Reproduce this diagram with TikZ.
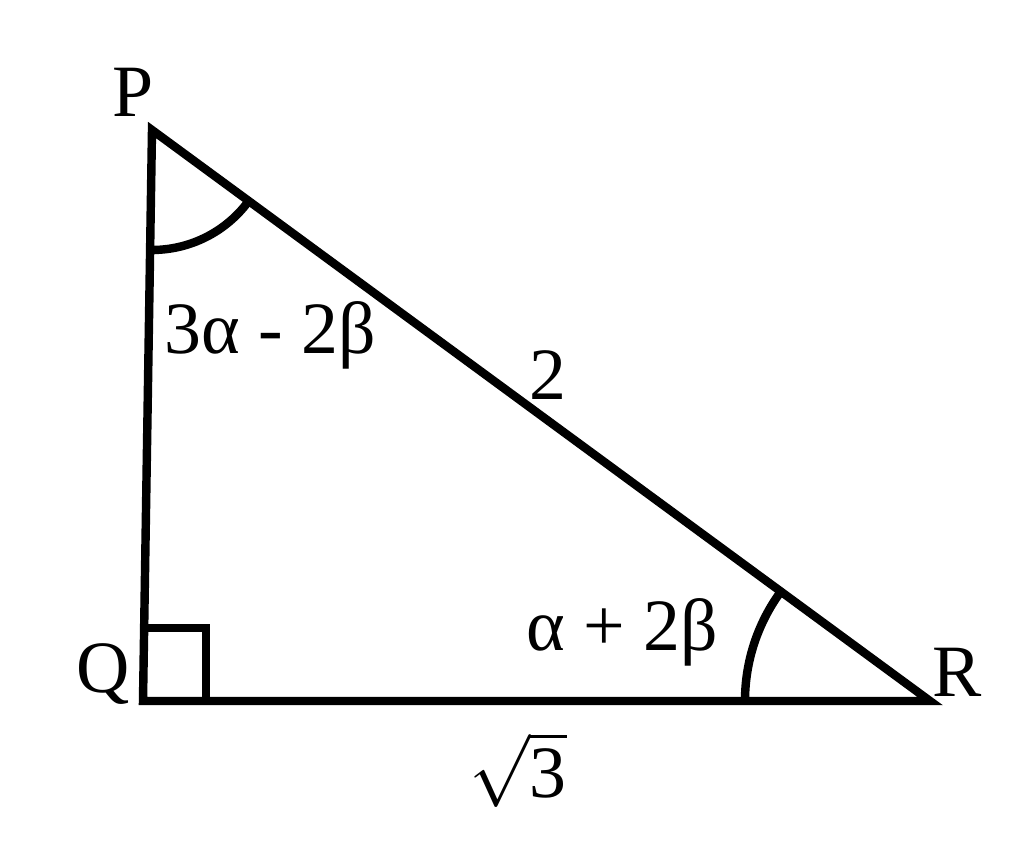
\documentclass[tikz,border=0pt]{standalone}
\usepackage{fontspec}
\setmainfont{Liberation Serif}
\usepackage{tikz}
\usetikzlibrary{positioning}

\begin{document}
\begin{tikzpicture}
    [
    side/.style = {line width=2.4pt},
    lab/.style = {inner sep=0pt, font=\fontsize{21}{24}\selectfont}
    ]

    \useasboundingbox (0,0) rectangle (10.24,8.46);

% Vertices
    \coordinate (p) at (1.52,7.16);
    \coordinate (q) at (1.43,1.45);
    \coordinate (r) at (9.30,1.45);

% Triangle
    \draw[side] (p) -- (q) -- (r) -- cycle;
    \draw[side] ([xshift=0.02cm]q) ++(0,0.73) -| ([xshift=0.63cm]q);

% Angle arcs
    \draw[side] (p) ++(269:1.2) arc[start angle=269, end angle=323.6, radius=1.2];
    \draw[side] (r) ++(143.6:1.85) arc[start angle=143.6, end angle=180, radius=1.85];

% Labels
    \node[lab] (plab) at (1.33,7.54) {P};
    \node[lab] (qlab) at (1.03,1.72) {Q};
    \node[lab] (rlab) at (9.57,1.74) {R};
    \node[lab] (angp) at (2.70,5.11) {3α - 2β};
    \node[lab] (angr) at (6.22,2.14) {α + 2β};
    \node[lab] (hyp) at (5.48,4.71) {2};
    \node[lab] (base) at (5.18,0.76) {$\sqrt{\hbox{3}}$};

\end{tikzpicture}
\end{document}
